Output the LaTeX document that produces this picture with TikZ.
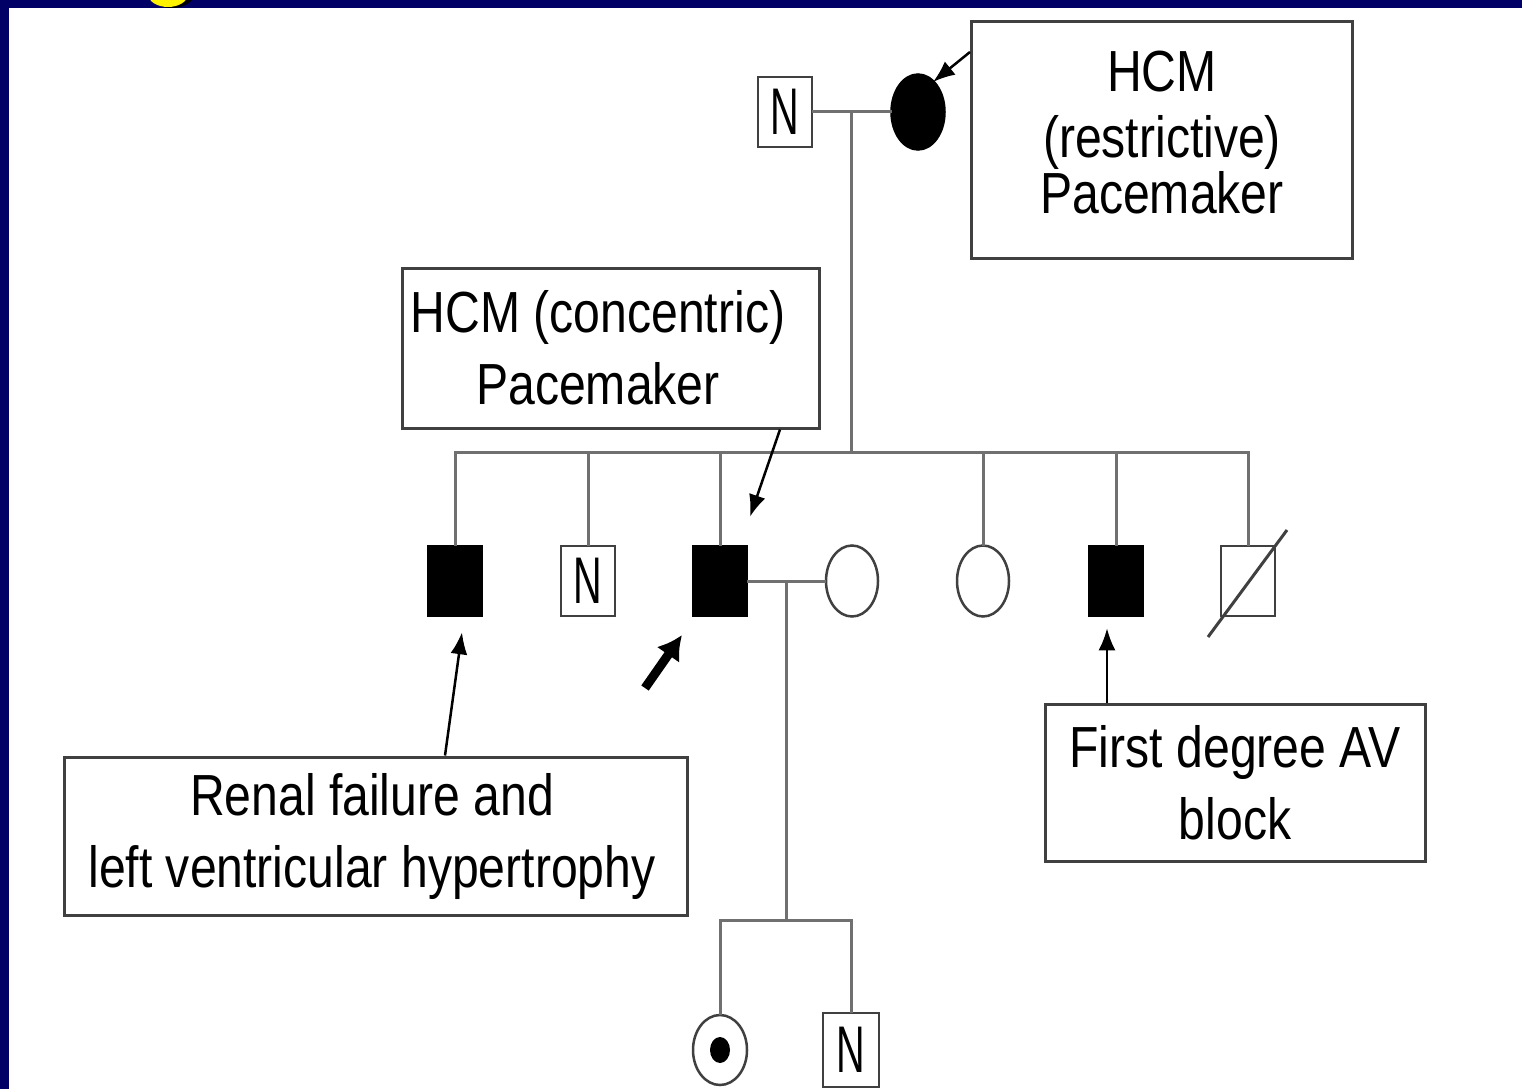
\documentclass[tikz,border=0pt]{standalone}
\usepackage{fontspec}
\newfontfamily\pedfont[FakeStretch=0.83]{Liberation Sans}
\newfontfamily\markfont[FakeStretch=0.6]{Liberation Sans}
\usepackage{tikz}
\usetikzlibrary{arrows.meta, positioning, calc, shapes.geometric}
\definecolor{slidenavy}{RGB}{0,0,102}
\definecolor{pedgray}{RGB}{112,112,112}
\definecolor{boxgray}{RGB}{64,64,64}

\begin{document}
\begin{tikzpicture}[x=1pt, y=-1pt,
  male/.style={draw=boxgray, line width=2.5pt, rectangle, minimum width=54pt, minimum height=70pt, inner sep=0pt},
  female/.style={draw=boxgray, line width=2.5pt, ellipse, minimum width=52pt, minimum height=71pt, inner sep=0pt},
  affected/.style={fill=black, draw=black},
  tested/.style={font=\markfont\fontsize{66}{66}\selectfont},
  note/.style={draw=boxgray, line width=3pt, inner sep=0pt, align=center, font=\pedfont\fontsize{58}{72}\selectfont},
  kin/.style={draw=pedgray, line width=3pt, line cap=rect},
  pointer/.style={-{Latex[length=22pt,width=17pt]}, line width=2.5pt},
  proband/.style={-{Latex[length=24pt,width=28pt]}, line width=9pt}
]
\useasboundingbox (0,0) rectangle (1522,1089);
\fill[white] (0,0) rectangle (1522,1089);
\fill[slidenavy] (0,0) rectangle (1522,8);
\fill[slidenavy] (0,0) rectangle (9,1089);
\begin{scope}
  \clip (0,0) rectangle (1522,8);
  \fill[black] (172,-6) ellipse [x radius=22pt, y radius=14pt];
  \fill[yellow] (168,-6) ellipse [x radius=20pt, y radius=13pt];
\end{scope}

% notes
\node[note, minimum width=381pt, minimum height=236pt, text depth=16pt] (restr) at (1162,140) {HCM\\[-6pt](restrictive)\\[-16pt]Pacemaker};
\node[note, minimum width=417pt, minimum height=160pt] (conc) at (611,348) {HCM (concentric)\hspace*{26pt}\\Pacemaker\hspace*{26pt}};
\node[note, minimum width=623pt, minimum height=158pt] (renal) at (376,836) {Renal failure and\hspace*{8pt}\\left ventricular hypertrophy\hspace*{8pt}};
\node[note, minimum width=380pt, minimum height=157pt] (avblock) at (1235,783) {First degree AV\\block};

% generation I
\node[male, tested] (gf) at (785,112) {N};
\node[female, affected, minimum width=53pt, minimum height=75pt] (gm) at (918,112) {};

% generation II
\node[male, affected] (s1) at (455,581) {};
\node[male, tested] (s2) at (588,581) {N};
\node[male, affected] (s3) at (720,581) {};
\node[female] (w3) at (852,581) {};
\node[female] (s5) at (983,581) {};
\node[male, affected] (s6) at (1116,581) {};
\node[male] (s7) at (1248,581) {};

% generation III
\node[female, minimum width=54pt, minimum height=70pt] (g1) at (720,1050) {};
\node[male, tested, minimum width=56pt, minimum height=74pt] (g2) at (851,1050) {N};
\fill (g1.center) ellipse [x radius=10pt, y radius=13pt];

% lines of descent
\draw[kin] (gf.east) -- (gm.west);
\coordinate (top) at ($(gf.east)!0.5!(gm.west)$);
\coordinate (sib) at (top |- 0,452);
\draw[kin] (top) -- (sib);
\draw[kin] (s1.north |- sib) -- (s7.north |- sib);
\foreach \k in {s1,s2,s3,s5,s6,s7}
  \draw[kin] (\k.north) -- (\k.north |- sib);
\draw[kin] (s3.east) -- (w3.west);
\coordinate (mid) at ($(s3.east)!0.5!(w3.west)$);
\coordinate (kids) at (mid |- 0,920);
\draw[kin] (mid) -- (kids);
\draw[kin] (g1.north |- kids) -- (g2.north |- kids);
\foreach \k in {g1,g2}
  \draw[kin] (\k.north) -- (\k.north |- kids);
\draw[kin, draw=boxgray, line cap=butt] ($(s7.center)+(-40,56)$) -- ($(s7.center)+(39,-51)$);

% pointers
\draw[pointer] ([yshift=88pt]restr.west) -- ([xshift=15pt,yshift=30pt]gm.center);
\draw[pointer] ([xshift=169pt]conc.south) -- ([xshift=30pt,yshift=28pt]s3.north);
\draw[pointer] ([xshift=69pt]renal.north) -- ([xshift=7pt,yshift=-15pt]s1.south);
\draw[pointer] ([xshift=-128pt]avblock.north) -- ([xshift=-9pt,yshift=-11pt]s6.south);
\draw[proband] ([xshift=-75pt,yshift=-107pt]s3.center) -- ([xshift=-38pt,yshift=-54pt]s3.center);
\end{tikzpicture}
\end{document}
